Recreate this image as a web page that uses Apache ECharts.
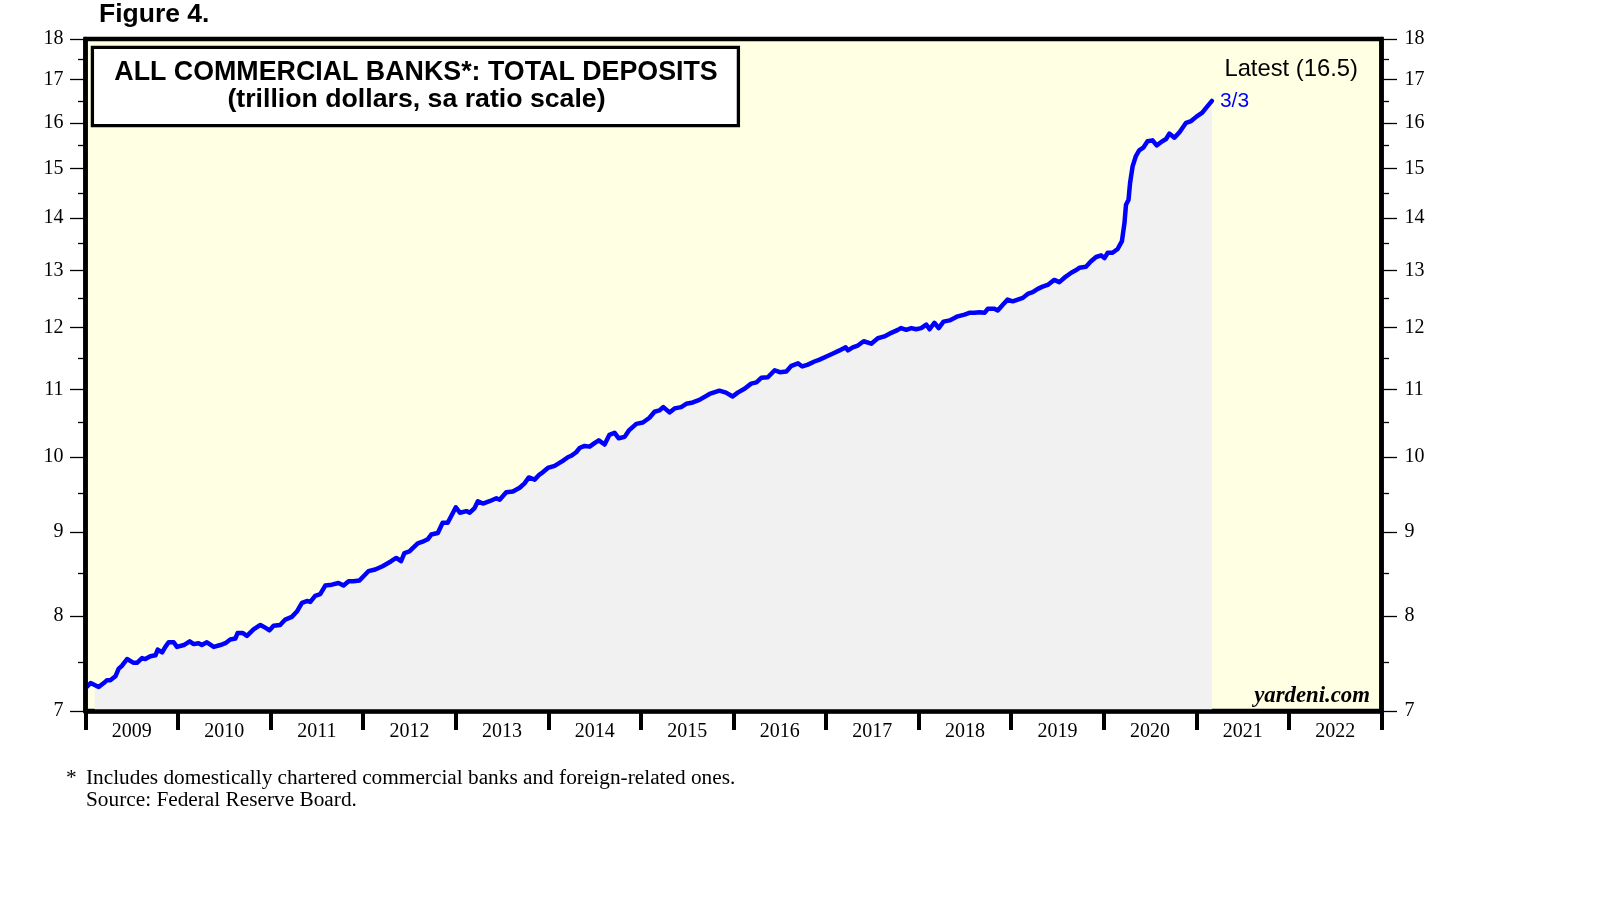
<!DOCTYPE html>
<html>
<head>
<meta charset="utf-8">
<script src="https://cdn.jsdelivr.net/npm/echarts@6/dist/echarts.min.js"></script>
<style>html,body{margin:0;padding:0;background:#fff}#c{width:1610px;height:910px}</style>
</head>
<body>
<div id="c"></div>
<script>
// Weekly-ish readings of total deposits, trillion dollars
const dates = [
'2009-01-05','2009-01-21','2009-02-06','2009-02-22','2009-03-14','2009-03-27','2009-04-09','2009-04-29','2009-05-12','2009-05-25',
'2009-06-14','2009-07-10','2009-07-23','2009-08-12','2009-08-25','2009-09-14','2009-10-04','2009-10-13','2009-10-30','2009-11-12',
'2009-11-25','2009-12-15','2009-12-28','2010-01-24','2010-02-16','2010-03-04','2010-03-23','2010-04-05','2010-04-25','2010-05-22',
'2010-06-17','2010-07-07','2010-07-26','2010-08-15','2010-08-24','2010-09-14','2010-09-30','2010-10-26','2010-11-22','2010-12-11',
'2010-12-28','2011-01-13','2011-02-08','2011-02-28','2011-03-26','2011-04-15','2011-05-05','2011-05-24','2011-06-07','2011-06-26',
'2011-07-16','2011-08-05','2011-08-31','2011-09-26','2011-10-16','2011-11-05','2011-11-24','2011-12-18','2012-01-03','2012-01-22',
'2012-02-18','2012-03-18','2012-04-21','2012-05-11','2012-05-30','2012-06-12','2012-07-02','2012-07-15','2012-08-04','2012-08-23',
'2012-09-12','2012-09-26','2012-10-22','2012-11-10','2012-11-30','2012-12-13','2013-01-01','2013-01-17','2013-02-12','2013-02-25',
'2013-03-16','2013-03-29','2013-04-18','2013-05-14','2013-06-10','2013-06-23','2013-07-19','2013-08-14','2013-09-10','2013-09-29',
'2013-10-16','2013-11-08','2013-11-27','2013-12-10','2013-12-30','2014-01-26','2014-02-14','2014-02-27','2014-03-19','2014-04-01',
'2014-04-21','2014-05-04','2014-05-24','2014-06-13','2014-07-02','2014-07-19','2014-08-11','2014-08-30','2014-09-19','2014-10-06',
'2014-10-29','2014-11-14','2014-12-14','2015-01-09','2015-02-04','2015-02-24','2015-03-15','2015-03-31','2015-04-24','2015-05-14',
'2015-06-09','2015-06-29','2015-07-25','2015-08-20','2015-09-29','2015-11-07','2015-12-03','2015-12-29','2016-01-18','2016-02-14',
'2016-03-11','2016-04-01','2016-04-20','2016-05-16','2016-06-12','2016-07-02','2016-07-28','2016-08-17','2016-09-12','2016-09-29',
'2016-10-21','2016-11-16','2016-12-06','2017-01-02','2017-01-28','2017-02-23','2017-03-19','2017-03-28','2017-04-16','2017-05-06',
'2017-05-29','2017-06-28','2017-07-24','2017-08-19','2017-09-15','2017-10-11','2017-10-24','2017-11-13','2017-12-03','2017-12-22',
'2018-01-11','2018-01-31','2018-02-13','2018-03-04','2018-03-21','2018-04-09','2018-05-03','2018-05-22','2018-06-04','2018-07-01',
'2018-07-20','2018-08-09','2018-08-29','2018-09-18','2018-10-01','2018-10-27','2018-11-09','2018-11-29','2018-12-18','2019-01-07',
'2019-01-27','2019-02-16','2019-03-07','2019-03-27','2019-04-16','2019-05-05','2019-05-25','2019-06-20','2019-07-10','2019-07-30',
'2019-08-26','2019-09-11','2019-09-27','2019-10-23','2019-11-12','2019-12-02','2019-12-22','2020-01-04','2020-01-17','2020-02-05',
'2020-02-25','2020-03-13','2020-03-23','2020-03-29','2020-04-08','2020-04-14','2020-04-24','2020-05-07','2020-05-20','2020-06-05',
'2020-06-22','2020-07-12','2020-07-28','2020-08-14','2020-09-03','2020-09-16','2020-10-06','2020-10-26','2020-11-21','2020-12-11',
'2021-01-01','2021-01-24','2021-02-08','2021-03-03'
];
const deposits = [
7.24,7.28,7.26,7.24,7.28,7.31,7.31,7.35,7.43,7.46,
7.53,7.49,7.49,7.54,7.53,7.56,7.57,7.63,7.60,7.66,
7.71,7.71,7.66,7.68,7.72,7.69,7.70,7.68,7.71,7.66,
7.68,7.70,7.74,7.75,7.81,7.81,7.78,7.85,7.90,7.87,
7.84,7.89,7.90,7.96,7.99,8.05,8.15,8.17,8.16,8.23,
8.25,8.35,8.36,8.38,8.35,8.40,8.40,8.41,8.46,8.52,
8.54,8.58,8.64,8.68,8.64,8.74,8.76,8.80,8.86,8.88,
8.91,8.97,8.99,9.12,9.12,9.20,9.32,9.25,9.27,9.25,
9.31,9.40,9.37,9.40,9.44,9.42,9.52,9.53,9.58,9.64,
9.72,9.69,9.76,9.79,9.85,9.88,9.92,9.95,10.00,10.02,
10.07,10.13,10.16,10.15,10.20,10.24,10.18,10.32,10.35,10.27,
10.29,10.38,10.48,10.50,10.57,10.66,10.68,10.73,10.65,10.71,
10.73,10.78,10.80,10.84,10.93,10.98,10.95,10.89,10.95,11.01,
11.09,11.11,11.18,11.19,11.30,11.27,11.28,11.37,11.41,11.36,
11.39,11.44,11.47,11.52,11.57,11.62,11.67,11.62,11.67,11.70,
11.77,11.73,11.82,11.85,11.91,11.96,11.99,11.96,11.99,11.97,
11.99,12.05,11.97,12.08,11.99,12.10,12.12,12.16,12.19,12.22,
12.25,12.25,12.26,12.25,12.32,12.32,12.29,12.39,12.48,12.45,
12.48,12.51,12.58,12.61,12.67,12.71,12.74,12.83,12.79,12.87,
12.96,13.00,13.05,13.07,13.17,13.25,13.28,13.23,13.33,13.33,
13.40,13.55,13.90,14.26,14.36,14.70,15.05,15.27,15.39,15.45,
15.59,15.61,15.50,15.57,15.64,15.76,15.67,15.79,16.00,16.04,
16.14,16.23,16.34,16.50
];
const yMajorTicks = [7,8,9,10,11,12,13,14,15,16,17,18];
const yMinorTicks = [7.5,8.5,9.5,10.5,11.5,12.5,13.5,14.5,15.5,16.5,17.5];
const yearTicks = [2009,2010,2011,2012,2013,2014,2015,2016,2017,2018,2019,2020,2021,2022,2023];
const yearLabels = [2009,2010,2011,2012,2013,2014,2015,2016,2017,2018,2019,2020,2021,2022];
const latestText = 'Latest (16.5)';
const latestDate = '3/3';
const areaStart = '2009-02-06';

const ts = y => new Date(y, 0, 1).getTime();
const lineData = dates.map((d, i) => [d, deposits[i]]);
const areaData = lineData.filter(p => p[0] >= areaStart);

const serif = 'Liberation Serif, Times New Roman, serif';
const sans = 'Liberation Sans, Arial, sans-serif';

function yAx(pos, major) {
  return {
    type: 'log', logBase: 10, min: 7, max: 18, position: pos, offset: 0, z: 10,
    axisLine: { show: major, lineStyle: { color: '#000', width: 4.5 } },
    axisTick: { show: true, inside: false, customValues: major ? yMajorTicks : yMinorTicks,
      length: major ? 15.5 : 7.5, lineStyle: { color: '#000', width: 1.3 } },
    axisLabel: { show: major, customValues: yMajorTicks, margin: pos === 'left' ? 22 : 23,
      fontFamily: serif, fontSize: 20, color: '#000' },
    splitLine: { show: false }, minorTick: { show: false }
  };
}

const chart = echarts.init(document.getElementById('c'), null, { renderer: 'canvas' });
chart.setOption({
  animation: false,
  backgroundColor: '#fff',
  grid: { left: 85.5, right: 228.5, top: 39, bottom: 199, show: true,
    backgroundColor: '#FFFFE3', borderColor: '#000', borderWidth: 4.5, containLabel: false, outerBoundsMode: 'none' },
  xAxis: [{
    type: 'time', min: ts(2009), max: ts(2023), position: 'bottom', z: 10,
    axisLine: { show: true, onZero: false, lineStyle: { color: '#000', width: 4.5 } },
    axisTick: { show: false }, axisLabel: { show: false }, splitLine: { show: false }
  }, {
    type: 'value', min: 2009, max: 2023, interval: 1, position: 'bottom', offset: 0, z: 10,
    axisLine: { show: false },
    axisTick: { show: true, customValues: yearTicks, length: 19, lineStyle: { color: '#000', width: 4 } },
    axisLabel: { customValues: yearLabels.map(y => y + 0.5), formatter: v => String(Math.floor(v)),
      margin: 11, fontFamily: serif, fontSize: 20, color: '#000' },
    splitLine: { show: false }
  }],
  yAxis: [yAx('left', true), yAx('left', false), yAx('right', true), yAx('right', false)],
  series: [
    { type: 'line', data: areaData, xAxisIndex: 0, yAxisIndex: 0, showSymbol: false, symbol: 'none',
      lineStyle: { width: 0, opacity: 0 }, areaStyle: { color: '#F1F1F1', opacity: 1 }, z: 2, silent: true },
    { type: 'line', data: lineData, xAxisIndex: 0, yAxisIndex: 0, showSymbol: false, symbol: 'none',
      lineStyle: { color: '#0000FF', width: 4.5, join: 'round', cap: 'round' }, z: 3,
      endLabel: { show: true, formatter: latestDate, color: '#0000FF', fontFamily: sans, fontSize: 21, distance: 8 } }
  ],
  graphic: [
    { type: 'text', left: 99, top: 1.5, style: { text: 'Figure 4.', font: 'bold 26.5px ' + sans, fill: '#000' } },
    { type: 'rect', shape: { x: 92.4, y: 47.3, width: 646, height: 78.4 }, z: 20,
      style: { fill: '#fff', stroke: '#000', lineWidth: 3.3 } },
    { type: 'text', x: 416, y: 72.5, z: 21, style: { text: 'ALL COMMERCIAL BANKS*: TOTAL DEPOSITS',
      font: 'bold 26.8px ' + sans, fill: '#000', align: 'center', verticalAlign: 'middle' } },
    { type: 'text', x: 416.5, y: 100, z: 21, style: { text: '(trillion dollars, sa ratio scale)',
      font: 'bold 26.7px ' + sans, fill: '#000', align: 'center', verticalAlign: 'middle' } },
    { type: 'text', x: 1358, y: 69, z: 21, style: { text: latestText,
      font: '23.8px ' + sans, fill: '#000', align: 'right', verticalAlign: 'middle' } },
    { type: 'text', x: 1370, y: 696, z: 21, style: { text: 'yardeni.com',
      font: 'italic bold 22.8px ' + serif, fill: '#000', align: 'right', verticalAlign: 'middle' } },
    { type: 'text', x: 66, y: 778.5, style: { text: '*', font: '21.3px ' + serif, fill: '#000', verticalAlign: 'middle' } },
    { type: 'text', x: 86, y: 778.5, style: { text: 'Includes domestically chartered commercial banks and foreign-related ones.',
      font: '21.3px ' + serif, fill: '#000', verticalAlign: 'middle' } },
    { type: 'text', x: 86, y: 800, style: { text: 'Source: Federal Reserve Board.',
      font: '21.3px ' + serif, fill: '#000', verticalAlign: 'middle' } }
  ]
});
</script>
</body>
</html>
